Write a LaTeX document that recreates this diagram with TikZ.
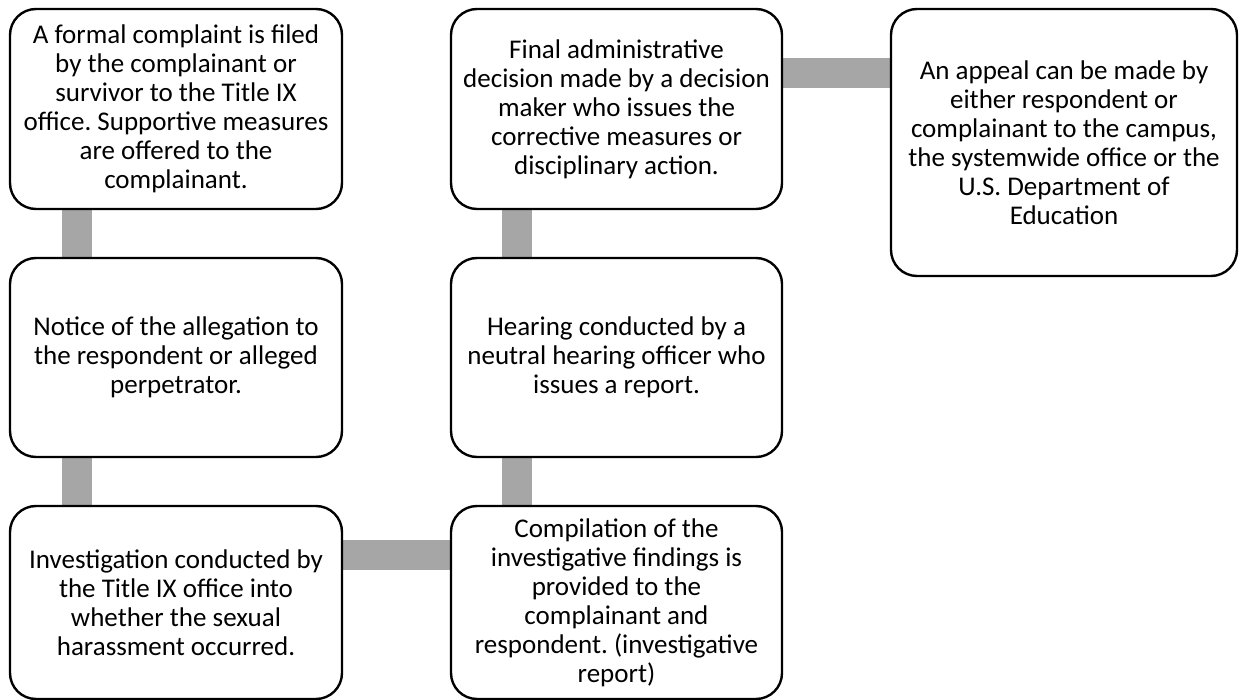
\documentclass[tikz,border=0pt]{standalone}
\usepackage{fontspec}
\setmainfont{Carlito}
\usetikzlibrary{calc,backgrounds}
\definecolor{barc}{RGB}{166,166,166}
\tikzset{
  stepbox/.style={draw=black, line width=2.4pt, fill=white, rounded corners=26pt,
    align=center, inner sep=0pt, font=\fontsize{27}{29}\selectfont\frenchspacing,
    minimum width=332pt},
  barline/.style={draw=barc, line width=30pt}
}
\begin{document}
\begin{tikzpicture}[x=1pt,y=-1pt]
\useasboundingbox (0,0) rectangle (1239,700);
\node[stepbox, minimum height=200pt] (b1) at (176,109) {A formal complaint is filed\\by the complainant or\\survivor to the Title IX\\office. Supportive measures\\are offered to the\\complainant.};
\node[stepbox, minimum height=199pt] (b2) at (176,357.5) {Notice of the allegation to\\the respondent or alleged\\perpetrator.};
\node[stepbox, minimum height=193pt] (b3) at (176,602.5) {Investigation conducted by\\the Title IX office into\\whether the sexual\\harassment occurred.};
\node[stepbox, minimum height=193pt, minimum width=331pt] (b4) at (616.5,602.5) {Compilation of the\\investigative findings is\\provided to the\\complainant and\\respondent. (investigative\\report)};
\node[stepbox, minimum height=199pt, minimum width=331pt] (b5) at (616.5,357.5) {Hearing conducted by a\\neutral hearing officer who\\issues a report.};
\node[stepbox, minimum height=200pt, minimum width=331pt] (b6) at (616.5,109) {Final administrative\\decision made by a decision\\maker who issues the\\corrective measures or\\disciplinary action.};
\node[stepbox, minimum height=267pt, minimum width=346pt] (b7) at (1064,142.5) {An appeal can be made by\\either respondent or\\complainant to the campus,\\the systemwide office or the\\U.S. Department of\\Education};
\begin{scope}[on background layer]
\draw[barline] ($(b1.south west)+(68,0)$) -- ($(b2.north west)+(68,0)$);
\draw[barline] ($(b2.south west)+(68,0)$) -- ($(b3.north west)+(68,0)$);
\draw[barline] ($(b3.north east)+(0,50)$) -- ($(b4.north west)+(0,50)$);
\draw[barline] ($(b4.north west)+(67,0)$) -- ($(b5.south west)+(67,0)$);
\draw[barline] ($(b5.north west)+(67,0)$) -- ($(b6.south west)+(67,0)$);
\draw[barline] ($(b6.north east)+(0,65.5)$) -- ($(b7.north west)+(0,65.5)$);
\end{scope}
\end{tikzpicture}
\end{document}
